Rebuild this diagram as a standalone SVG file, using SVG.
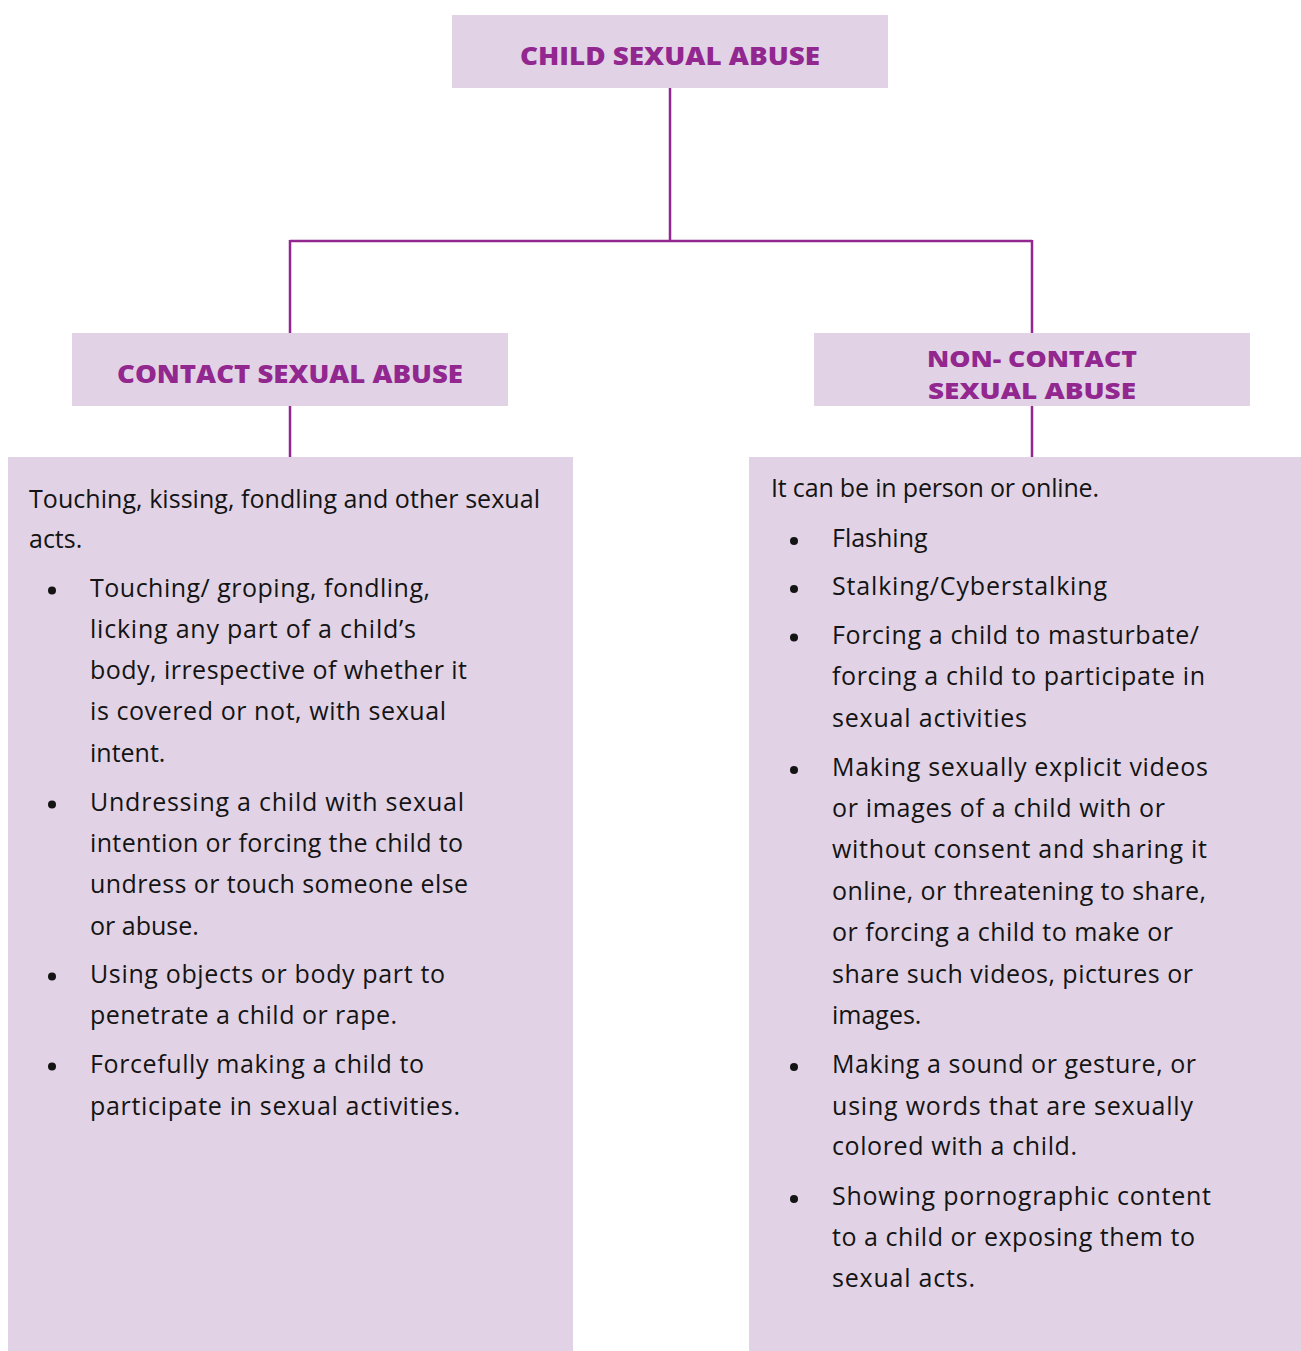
<svg xmlns="http://www.w3.org/2000/svg" width="1301" height="1351" viewBox="0 0 1301 1351">
<style>
.box{fill:#E1D3E5}
.head{font-family:"Open Sans","Liberation Sans",sans-serif;font-weight:800;font-size:25px;fill:#92278F}
.head2{font-size:23px}
.body{font-family:"Open Sans","Liberation Sans",sans-serif;font-size:25px;fill:#141414}
.bul{fill:#141414}
.conn{fill:none;stroke:#92278F;stroke-width:2.5}
</style>
<rect width="1301" height="1351" fill="#ffffff"/>
<g id="connectors">
<path class="conn" d="M670 88 V241 M290 241 H1032 M290 240 V333 M1032 240 V333 M290 406 V457 M1032 406 V457"/>
</g>
<g id="child-sexual-abuse">
<rect class="box" x="452" y="15" width="436" height="73"/>
<text class="head" x="520" y="65" textLength="300" lengthAdjust="spacingAndGlyphs">CHILD SEXUAL ABUSE</text>
</g>
<g id="contact-sexual-abuse">
<rect class="box" x="72" y="333" width="436" height="73"/>
<text class="head" x="117" y="383" textLength="346" lengthAdjust="spacingAndGlyphs">CONTACT SEXUAL ABUSE</text>
</g>
<g id="non-contact-sexual-abuse">
<rect class="box" x="814" y="333" width="436" height="73"/>
<text class="head head2" x="927" y="367" textLength="210" lengthAdjust="spacingAndGlyphs">NON- CONTACT</text>
<text class="head head2" x="928" y="399" textLength="208" lengthAdjust="spacingAndGlyphs">SEXUAL ABUSE</text>
</g>
<g id="contact-details">
<rect class="box" x="8" y="457" width="565" height="894"/>
<g class="body">
<text x="29" y="508" textLength="511" lengthAdjust="spacing">Touching, kissing, fondling and other sexual</text>
<text x="29" y="548">acts.</text>
<text x="90" y="597" textLength="340" lengthAdjust="spacing">Touching/ groping, fondling,</text>
<text x="90" y="638" textLength="326" lengthAdjust="spacing">licking any part of a child’s</text>
<text x="90" y="679" textLength="377" lengthAdjust="spacing">body, irrespective of whether it</text>
<text x="90" y="720" textLength="356" lengthAdjust="spacing">is covered or not, with sexual</text>
<text x="90" y="762">intent.</text>
<text x="90" y="811" textLength="374" lengthAdjust="spacing">Undressing a child with sexual</text>
<text x="90" y="852" textLength="373" lengthAdjust="spacing">intention or forcing the child to</text>
<text x="90" y="893" textLength="378" lengthAdjust="spacing">undress or touch someone else</text>
<text x="90" y="935">or abuse.</text>
<text x="90" y="983" textLength="355" lengthAdjust="spacing">Using objects or body part to</text>
<text x="90" y="1024" textLength="307" lengthAdjust="spacing">penetrate a child or rape.</text>
<text x="90" y="1073" textLength="334" lengthAdjust="spacing">Forcefully making a child to</text>
<text x="90" y="1115" textLength="370" lengthAdjust="spacing">participate in sexual activities.</text>
</g>
<g class="bul">
<circle cx="52" cy="590.5" r="4"/>
<circle cx="52" cy="804.5" r="4"/>
<circle cx="52" cy="976.5" r="4"/>
<circle cx="52" cy="1066.5" r="4"/>
</g>
</g>
<g id="non-contact-details">
<rect class="box" x="749" y="457" width="552" height="894"/>
<g class="body">
<text x="771" y="497" textLength="328" lengthAdjust="spacing">It can be in person or online.</text>
<text x="832" y="547">Flashing</text>
<text x="832" y="595" textLength="275" lengthAdjust="spacing">Stalking/Cyberstalking</text>
<text x="832" y="644" textLength="367" lengthAdjust="spacing">Forcing a child to masturbate/</text>
<text x="832" y="685" textLength="373" lengthAdjust="spacing">forcing a child to participate in</text>
<text x="832" y="727" textLength="195" lengthAdjust="spacing">sexual activities</text>
<text x="832" y="776" textLength="376" lengthAdjust="spacing">Making sexually explicit videos</text>
<text x="832" y="817" textLength="333" lengthAdjust="spacing">or images of a child with or</text>
<text x="832" y="858" textLength="375" lengthAdjust="spacing">without consent and sharing it</text>
<text x="832" y="900" textLength="374" lengthAdjust="spacing">online, or threatening to share,</text>
<text x="832" y="941" textLength="341" lengthAdjust="spacing">or forcing a child to make or</text>
<text x="832" y="983" textLength="361" lengthAdjust="spacing">share such videos, pictures or</text>
<text x="832" y="1024">images.</text>
<text x="832" y="1073" textLength="364" lengthAdjust="spacing">Making a sound or gesture, or</text>
<text x="832" y="1115" textLength="361" lengthAdjust="spacing">using words that are sexually</text>
<text x="832" y="1155" textLength="245" lengthAdjust="spacing">colored with a child.</text>
<text x="832" y="1205" textLength="379" lengthAdjust="spacing">Showing pornographic content</text>
<text x="832" y="1246" textLength="363" lengthAdjust="spacing">to a child or exposing them to</text>
<text x="832" y="1287" textLength="143" lengthAdjust="spacing">sexual acts.</text>
</g>
<g class="bul">
<circle cx="794" cy="541" r="4"/>
<circle cx="794" cy="589" r="4"/>
<circle cx="794" cy="637.5" r="4"/>
<circle cx="794" cy="770" r="4"/>
<circle cx="794" cy="1067" r="4"/>
<circle cx="794" cy="1199" r="4"/>
</g>
</g>
</svg>
